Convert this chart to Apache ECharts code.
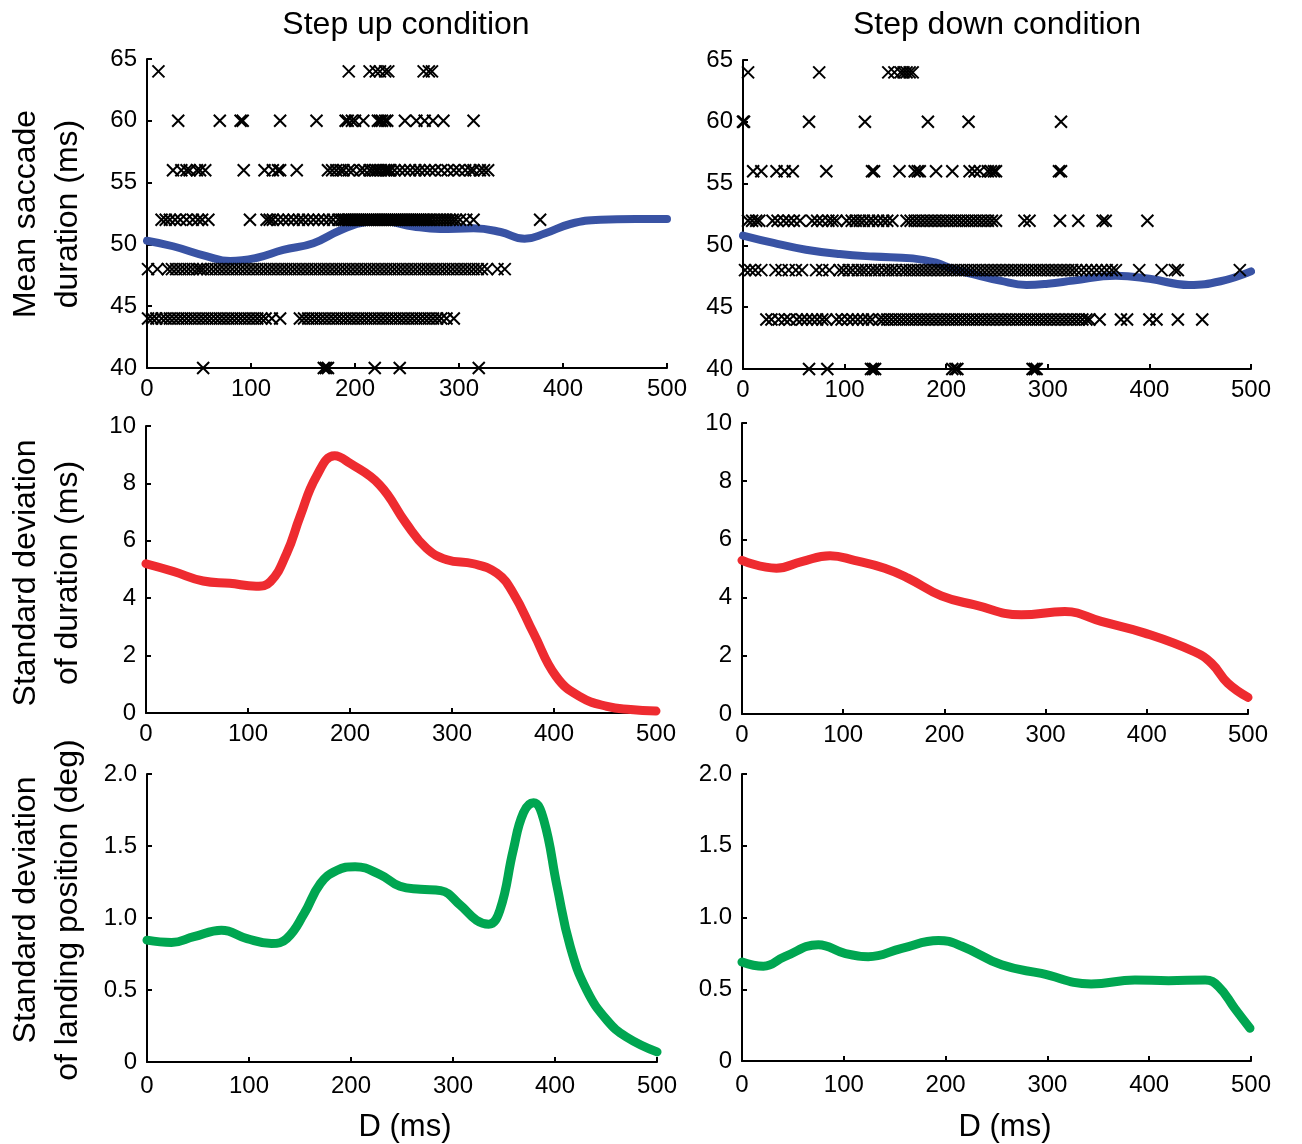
<!DOCTYPE html>
<html>
<head>
<meta charset="utf-8">
<script src="https://cdn.jsdelivr.net/npm/echarts@6/dist/echarts.min.js"></script>
<style>
html,body{margin:0;padding:0;background:#fff;}
#chart{width:1302px;height:1144px;}
</style>
</head>
<body>
<div id="chart"></div>
<script>
// ---------- DATA ----------
// Step up condition: individual saccade durations (x = D in ms) at each duration level (ms)
const tl64 = [11, 194, 214, 220, 224, 229, 232, 266, 271, 274];
const tl60 = [30, 70, 90, 92, 128, 163, 191, 193, 197, 200, 208, 222, 224, 226, 229, 231, 248, 259, 267, 275, 285, 314];
const tl56 = [25, 33, 38, 41, 48, 51, 56, 93, 113, 121, 126, 128, 144, 174, 178, 182, 186, 189, 194, 198, 205, 209, 214, 217, 220, 222, 225, 228, 230, 232, 234, 238, 243, 248, 253, 258, 262, 267, 272, 277, 283, 289, 295, 300, 306, 311, 314, 320, 324, 328];
const tl52 = [14, 18, 22, 27, 32, 38, 44, 49, 53, 59, 99, 115, 118, 121, 126, 131, 136, 141, 146, 150, 155, 160, 165, 170, 175, 179, 184, 187, 189, 191, 193, 195, 197, 199, 201, 203, 205, 207, 209, 211, 213, 215, 217, 219, 221, 223, 225, 227, 229, 231, 233, 235, 237, 239, 241, 243, 245, 247, 249, 251, 253, 255, 257, 259, 261, 263, 265, 267, 269, 271, 273, 276, 279, 282, 285, 288, 291, 294, 297, 301, 307, 314, 378];
const tl48 = [1, 10, 20, 24, 28, 32, 36, 40, 44, 48, 51, 54, 58, 62, 66, 70, 74, 78, 82, 86, 90, 94, 98, 102, 106, 110, 114, 118, 122, 126, 130, 134, 138, 142, 146, 150, 154, 158, 162, 166, 170, 174, 178, 182, 186, 190, 194, 198, 202, 206, 210, 214, 218, 222, 226, 230, 234, 238, 242, 246, 250, 254, 258, 262, 266, 270, 274, 278, 282, 286, 290, 294, 298, 302, 306, 310, 314, 318, 322, 327, 337, 344];
const tl44 = [1, 5, 9, 14, 18, 22, 26, 30, 34, 38, 42, 46, 50, 54, 58, 62, 66, 70, 74, 78, 82, 86, 90, 94, 98, 102, 106, 110, 114, 120, 128, 147, 151, 155, 159, 163, 167, 171, 175, 179, 183, 187, 191, 195, 199, 203, 207, 211, 215, 219, 223, 227, 231, 235, 239, 243, 247, 251, 255, 259, 263, 267, 271, 275, 279, 283, 288, 295];
const tl40 = [54, 170, 172, 174, 219, 243, 319];

// Step down condition
const tr64 = [5, 75, 143, 149, 155, 158, 161, 164, 167];
const tr60 = [0, 1, 65, 120, 182, 222, 313];
const tr56 = [10, 18, 33, 41, 49, 82, 127, 129, 154, 169, 172, 174, 190, 206, 223, 228, 233, 241, 244, 247, 249, 311, 313];
const tr52 = [5, 9, 13, 16, 29, 34, 40, 45, 50, 56, 68, 73, 78, 84, 88, 92, 102, 107, 111, 115, 119, 124, 128, 133, 138, 142, 147, 161, 165, 169, 173, 177, 181, 185, 189, 193, 197, 201, 205, 209, 213, 217, 221, 225, 229, 233, 237, 241, 245, 249, 277, 282, 312, 330, 354, 357, 398];
const tr48 = [2, 7, 12, 18, 32, 38, 45, 52, 58, 72, 78, 85, 95, 99, 104, 108, 113, 117, 121, 126, 130, 134, 139, 143, 147, 151, 156, 160, 164, 168, 172, 176, 180, 184, 188, 192, 196, 200, 204, 208, 212, 216, 220, 224, 228, 232, 236, 240, 244, 248, 252, 256, 260, 264, 268, 272, 276, 280, 284, 288, 292, 296, 300, 304, 308, 312, 316, 320, 324, 328, 333, 338, 343, 348, 353, 358, 363, 367, 390, 412, 425, 428, 489];
const tr44 = [23, 28, 35, 41, 46, 53, 58, 63, 68, 73, 78, 82, 92, 97, 103, 108, 113, 118, 123, 127, 134, 138, 142, 146, 150, 154, 158, 162, 166, 170, 174, 178, 182, 186, 190, 194, 198, 202, 206, 210, 214, 218, 222, 226, 230, 234, 238, 242, 246, 250, 254, 258, 262, 266, 270, 274, 278, 282, 286, 290, 294, 298, 302, 306, 310, 314, 318, 322, 326, 330, 334, 338, 341, 351, 372, 378, 400, 407, 428, 452];
const tr40 = [65, 83, 126, 128, 130, 206, 209, 211, 285, 287, 289];

// Mean saccade duration curves
const upMeanX = [0, 25, 57, 80, 105, 131, 160, 186, 211, 227, 256, 282, 314, 340, 363, 383, 407, 436, 470, 500];
const upMeanY = [50.3, 49.85, 49.05, 48.65, 48.9, 49.55, 50.1, 51.15, 51.8, 51.87, 51.45, 51.25, 51.3, 51.0, 50.45, 50.9, 51.65, 52.0, 52.05, 52.05];
const downMeanX = [0, 30, 62, 95, 128, 167, 190, 206, 230, 253, 279, 300, 325, 367, 400, 439, 470, 500];
const downMeanY = [50.8, 50.2, 49.65, 49.3, 49.1, 48.95, 48.6, 48.1, 47.6, 47.15, 46.8, 46.9, 47.15, 47.55, 47.3, 46.8, 47.1, 47.9];

// SD of duration
const upSdX = [0, 27, 56, 82, 108, 122, 138, 151, 167, 185, 200, 229, 255, 275, 295, 321, 344, 360, 380, 402, 425, 452, 475, 500];
const upSdY = [5.2, 4.93, 4.6, 4.52, 4.42, 4.58, 5.57, 6.84, 8.24, 8.96, 8.7, 7.95, 6.61, 5.74, 5.34, 5.2, 4.87, 4.18, 2.78, 1.28, 0.58, 0.23, 0.12, 0.07];
const downSdX = [0, 34, 59, 87, 111, 141, 164, 197, 230, 276, 319, 355, 398, 447, 464, 480, 500];
const downSdY = [5.28, 5.01, 5.24, 5.44, 5.28, 5.01, 4.67, 4.06, 3.75, 3.41, 3.52, 3.18, 2.78, 2.14, 1.74, 1.06, 0.57];

// SD of landing position
const upPosX = [0, 24, 46, 73, 98, 122, 137, 154, 170, 186, 204, 229, 248, 268, 288, 307, 323, 335, 346, 359, 369, 379, 389, 402, 415, 431, 451, 470, 500];
const upPosY = [0.846, 0.83, 0.87, 0.915, 0.857, 0.823, 0.857, 1.03, 1.24, 1.33, 1.356, 1.3, 1.22, 1.2, 1.19, 1.09, 0.985, 0.957, 1.055, 1.47, 1.73, 1.8, 1.68, 1.22, 0.8, 0.5, 0.29, 0.174, 0.07];
const downPosX = [0, 21, 42, 75, 101, 124, 157, 193, 216, 255, 294, 343, 386, 419, 455, 468, 484, 499];
const downPosY = [0.69, 0.66, 0.727, 0.81, 0.75, 0.727, 0.785, 0.84, 0.8, 0.67, 0.61, 0.537, 0.564, 0.56, 0.564, 0.52, 0.367, 0.228];

// Axis ticks
const xTicks = [0, 100, 200, 300, 400, 500];
const meanTicks = [40, 45, 50, 55, 60, 65];
const sdTicks = [0, 2, 4, 6, 8, 10];
const posTicks = [0, 0.5, 1.0, 1.5, 2.0];

// ---------- BUILD ----------
const FONT = '"Liberation Sans", Arial, Helvetica, sans-serif';
const BLUE = '#3953a4', RED = '#ee2b30', GREEN = '#00a651';

const grids = [
  {left: 147, top: 59, width: 520, height: 309},
  {left: 743, top: 60, width: 508, height: 309},
  {left: 146, top: 426, width: 510, height: 287},
  {left: 742, top: 423, width: 506, height: 291},
  {left: 147, top: 774, width: 510, height: 288},
  {left: 742, top: 774, width: 509, height: 287}
];

function axisCommon() {
  return {
    axisLine: {show: true, onZero: false, lineStyle: {color: '#000', width: 2}},
    axisTick: {show: true, inside: true, length: 5, lineStyle: {color: '#000', width: 2}},
    splitLine: {show: false},
    axisLabel: {color: '#000', fontSize: 24, fontFamily: FONT}
  };
}

const xAxes = grids.map((g, i) => {
  const a = axisCommon();
  a.type = 'value'; a.gridIndex = i;
  a.min = xTicks[0]; a.max = xTicks[xTicks.length - 1]; a.interval = 100;
  a.axisLabel.margin = (i >= 4) ? 12 : 9;
  return a;
});

const yRanges = [meanTicks, meanTicks, sdTicks, sdTicks, posTicks, posTicks];
const yAxes = grids.map((g, i) => {
  const a = axisCommon();
  const t = yRanges[i];
  a.type = 'value'; a.gridIndex = i;
  a.min = t[0]; a.max = t[t.length - 1]; a.interval = t[1] - t[0];
  a.axisLabel.margin = 10;
  if (i >= 4) a.axisLabel.formatter = v => (v === 0 ? '0' : v.toFixed(1));
  return a;
});

const X_SYMBOL = 'path://M0,0L10,10M0,10L10,0';

function rows(obj) {
  const out = [];
  Object.keys(obj).forEach(k => obj[k].forEach(x => out.push([x, Number(k)])));
  return out;
}
function pairs(xs, ys) { return xs.map((x, i) => [x, ys[i]]); }

const upScatter = rows({64: tl64, 60: tl60, 56: tl56, 52: tl52, 48: tl48, 44: tl44, 40: tl40});
const downScatter = rows({64: tr64, 60: tr60, 56: tr56, 52: tr52, 48: tr48, 44: tr44, 40: tr40});

function lineSeries(i, data, color, width) {
  return {
    type: 'line', xAxisIndex: i, yAxisIndex: i, data: data,
    smooth: 0.45, showSymbol: false, symbol: 'none', clip: false,
    lineStyle: {color: color, width: width, cap: 'round', join: 'round'},
    z: 2, silent: true, animation: false
  };
}
function scatterSeries(i, data) {
  return {
    type: 'scatter', xAxisIndex: i, yAxisIndex: i, data: data,
    symbol: X_SYMBOL, symbolSize: 12, clip: false,
    itemStyle: {color: 'rgba(0,0,0,0)', borderColor: '#000', borderWidth: 2, opacity: 1},
    z: 3, silent: true, animation: false
  };
}

const series = [
  lineSeries(0, pairs(upMeanX, upMeanY), BLUE, 8),
  scatterSeries(0, upScatter),
  lineSeries(1, pairs(downMeanX, downMeanY), BLUE, 8),
  scatterSeries(1, downScatter),
  lineSeries(2, pairs(upSdX, upSdY), RED, 9),
  lineSeries(3, pairs(downSdX, downSdY), RED, 9),
  lineSeries(4, pairs(upPosX, upPosY), GREEN, 9),
  lineSeries(5, pairs(downPosX, downPosY), GREEN, 9)
];

function txt(x, y, text, size, rot) {
  return {
    type: 'text', x: x, y: y, rotation: rot || 0,
    style: {text: text, font: size + 'px ' + FONT, fill: '#000', align: 'center', verticalAlign: 'middle'},
    silent: true
  };
}
const R = Math.PI / 2;
const graphics = [
  txt(406, 25, 'Step up condition', 32),
  txt(997, 25, 'Step down condition', 32),
  txt(26, 214, 'Mean saccade', 32, R),
  txt(68, 214, 'duration (ms)', 32, R),
  txt(26, 573, 'Standard deviation', 32, R),
  txt(68, 573, 'of duration (ms)', 32, R),
  txt(26, 910, 'Standard deviation', 32, R),
  txt(68, 910, 'of landing position (deg)', 32, R),
  txt(405, 1127, 'D (ms)', 31),
  txt(1005, 1127, 'D (ms)', 31)
];

const chart = echarts.init(document.getElementById('chart'), null, {renderer: 'canvas'});
chart.setOption({
  backgroundColor: '#fff',
  animation: false,
  grid: grids,
  xAxis: xAxes,
  yAxis: yAxes,
  series: series,
  graphic: graphics
});
</script>
</body>
</html>
